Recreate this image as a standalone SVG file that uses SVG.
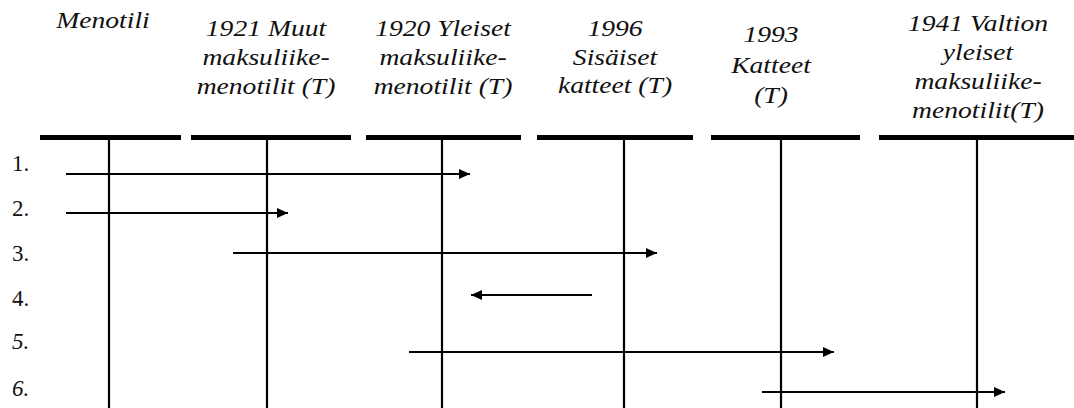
<svg xmlns="http://www.w3.org/2000/svg" width="1074" height="408" viewBox="0 0 1074 408">
<style>
text{font-family:'Liberation Serif','DejaVu Serif',serif}
.hd{font-style:italic;font-size:24px;fill:#111;text-anchor:middle}
.num{font-size:23px;fill:#111}
.it{font-style:italic}
.bar{stroke:#000;stroke-width:5;fill:none}
.life{stroke:#000;stroke-width:2.2;fill:none}
.msg{stroke:#000;stroke-width:2.2;fill:none;marker-end:url(#ah)}
</style>
<defs>
<marker id="ah" markerUnits="userSpaceOnUse" markerWidth="11" markerHeight="10" refX="11" refY="5" orient="auto">
<path d="M0,0 L11,5 L0,10 Z" fill="#000"/>
</marker>
</defs>
<rect width="1074" height="408" fill="#fff"/>

<g id="node-menotili">
<line class="bar" x1="40" y1="137.5" x2="181" y2="137.5"/>
<line class="life" x1="109" y1="140" x2="109" y2="408"/>
<g transform="translate(103,0) scale(1.15,1)"><text class="hd" x="0" y="28">Menotili</text></g>
</g>

<g id="node-1921">
<line class="bar" x1="191" y1="137.5" x2="351" y2="137.5"/>
<line class="life" x1="267" y1="140" x2="267" y2="408"/>
<g transform="translate(266,0) scale(1.15,1)">
<text class="hd" x="0" y="36">1921 Muut</text>
<text class="hd" x="0" y="65">maksuliike-</text>
<text class="hd" x="0" y="94">menotilit (T)</text>
</g>
</g>

<g id="node-1920">
<line class="bar" x1="366" y1="137.5" x2="521" y2="137.5"/>
<line class="life" x1="442" y1="140" x2="442" y2="408"/>
<g transform="translate(443,0) scale(1.15,1)">
<text class="hd" x="0" y="36">1920 Yleiset</text>
<text class="hd" x="0" y="65">maksuliike-</text>
<text class="hd" x="0" y="94">menotilit (T)</text>
</g>
</g>

<g id="node-1996">
<line class="bar" x1="537" y1="137.5" x2="693" y2="137.5"/>
<line class="life" x1="624" y1="140" x2="624" y2="408"/>
<g transform="translate(615,0) scale(1.15,1)">
<text class="hd" x="0" y="36">1996</text>
<text class="hd" x="0" y="65">Sisäiset</text>
<text class="hd" x="0" y="93">katteet (T)</text>
</g>
</g>

<g id="node-1993">
<line class="bar" x1="711" y1="137.5" x2="860" y2="137.5"/>
<line class="life" x1="781" y1="140" x2="781" y2="408"/>
<g transform="translate(771,0) scale(1.15,1)">
<text class="hd" x="0" y="42">1993</text>
<text class="hd" x="0" y="73">Katteet</text>
<text class="hd" x="0" y="103">(T)</text>
</g>
</g>

<g id="node-1941">
<line class="bar" x1="879" y1="137.5" x2="1074" y2="137.5"/>
<line class="life" x1="977" y1="140" x2="977" y2="408"/>
<g transform="translate(978,0) scale(1.15,1)">
<text class="hd" x="0" y="31">1941 Valtion</text>
<text class="hd" x="0" y="60">yleiset</text>
<text class="hd" x="0" y="89">maksuliike-</text>
<text class="hd" x="0" y="118">menotilit(T)</text>
</g>
</g>

<g id="labels">
<text class="num" x="12" y="171">1.</text>
<text class="num" x="12" y="216">2.</text>
<text class="num" x="12" y="261">3.</text>
<text class="num" x="12" y="306">4.</text>
<text class="num it" x="12" y="349">5.</text>
<text class="num it" x="12" y="396">6.</text>
</g>

<g id="connectors">
<line class="msg" x1="66" y1="174" x2="470" y2="174"/>
<line class="msg" x1="66" y1="213" x2="288" y2="213"/>
<line class="msg" x1="233" y1="253" x2="657" y2="253"/>
<line class="msg" x1="592" y1="295" x2="471" y2="295"/>
<line class="msg" x1="409" y1="352" x2="834" y2="352"/>
<line class="msg" x1="762" y1="392" x2="1005" y2="392"/>
</g>
</svg>
